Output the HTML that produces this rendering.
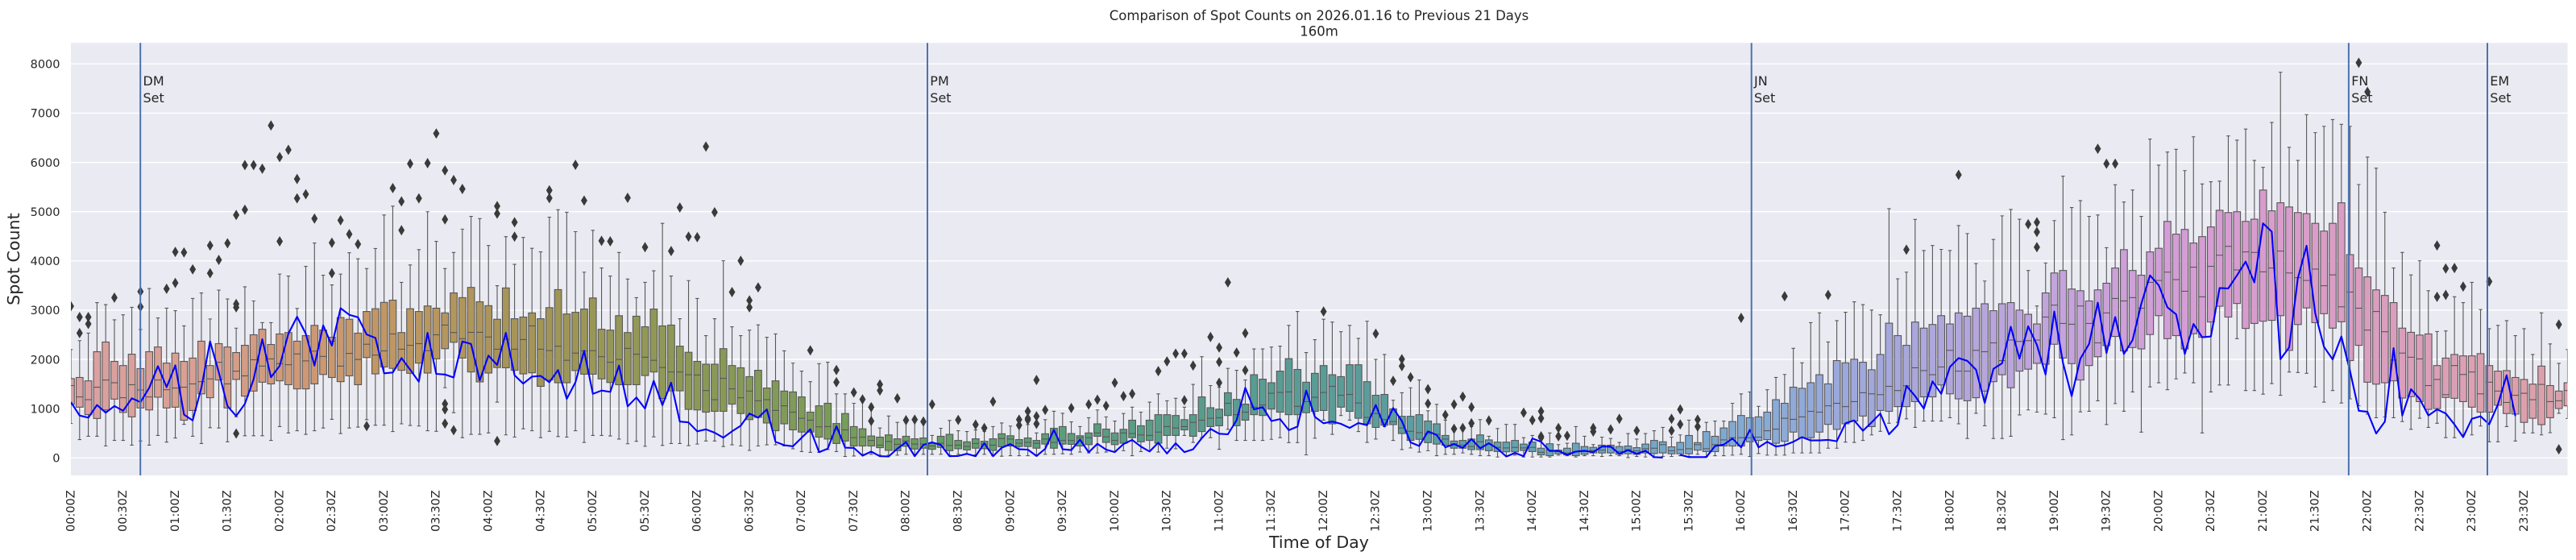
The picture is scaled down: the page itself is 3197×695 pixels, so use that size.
<!DOCTYPE html>
<html>
<head>
<meta charset="utf-8">
<style>
html,body{margin:0;padding:0;background:#fff;}
svg{display:block;}
text{font-family:"DejaVu Sans","Liberation Sans",sans-serif;fill:#262626;}
</style>
</head>
<body>
<svg xmlns="http://www.w3.org/2000/svg" width="3197" height="695" viewBox="0 0 3197 695">
<defs><clipPath id="ax"><rect x="88" y="53.3" width="3098.5" height="536.7"/></clipPath></defs>
<rect x="0" y="0" width="3197" height="695" fill="#ffffff"/>
<rect x="88" y="53.3" width="3098.5" height="536.7" fill="#EAEAF2"/>
<g stroke="#ffffff" stroke-width="1.4">
<line x1="88" x2="3186.5" y1="568.3" y2="568.3"/>
<line x1="88" x2="3186.5" y1="507.2" y2="507.2"/>
<line x1="88" x2="3186.5" y1="446.0" y2="446.0"/>
<line x1="88" x2="3186.5" y1="384.9" y2="384.9"/>
<line x1="88" x2="3186.5" y1="323.8" y2="323.8"/>
<line x1="88" x2="3186.5" y1="262.7" y2="262.7"/>
<line x1="88" x2="3186.5" y1="201.6" y2="201.6"/>
<line x1="88" x2="3186.5" y1="140.4" y2="140.4"/>
<line x1="88" x2="3186.5" y1="79.3" y2="79.3"/>
</g>
<g id="bx" clip-path="url(#ax)"></g>
<path id="ln" clip-path="url(#ax)" d="" fill="none" stroke="#0000FF" stroke-width="2.1" stroke-linejoin="round"/>
<g stroke="#4C72B0" stroke-width="2">
<line x1="174.2" x2="174.2" y1="53.3" y2="590"/>
<line x1="1151" x2="1151" y1="53.3" y2="590"/>
<line x1="2173.7" x2="2173.7" y1="53.3" y2="590"/>
<line x1="2914.9" x2="2914.9" y1="53.3" y2="590"/>
<line x1="3087" x2="3087" y1="53.3" y2="590"/>
</g>
<g font-size="16">
<text x="177.5" y="106">DM</text><text x="177.5" y="127">Set</text>
<text x="1154.3" y="106">PM</text><text x="1154.3" y="127">Set</text>
<text x="2177" y="106">JN</text><text x="2177" y="127">Set</text>
<text x="2918.2" y="106">FN</text><text x="2918.2" y="127">Set</text>
<text x="3090.3" y="106">EM</text><text x="3090.3" y="127">Set</text>
</g>
<g font-size="14.5" text-anchor="end">
<text x="74.5" y="573.6">0</text>
<text x="74.5" y="512.5">1000</text>
<text x="74.5" y="451.3">2000</text>
<text x="74.5" y="390.2">3000</text>
<text x="74.5" y="329.1">4000</text>
<text x="74.5" y="268.0">5000</text>
<text x="74.5" y="206.9">6000</text>
<text x="74.5" y="145.7">7000</text>
<text x="74.5" y="84.6">8000</text>
</g>
<g font-size="14.5" text-anchor="end">
<text transform="translate(92.3,608.3) rotate(-90)">00:00Z</text>
<text transform="translate(157.1,608.3) rotate(-90)">00:30Z</text>
<text transform="translate(221.9,608.3) rotate(-90)">01:00Z</text>
<text transform="translate(286.6,608.3) rotate(-90)">01:30Z</text>
<text transform="translate(351.4,608.3) rotate(-90)">02:00Z</text>
<text transform="translate(416.2,608.3) rotate(-90)">02:30Z</text>
<text transform="translate(481.0,608.3) rotate(-90)">03:00Z</text>
<text transform="translate(545.7,608.3) rotate(-90)">03:30Z</text>
<text transform="translate(610.5,608.3) rotate(-90)">04:00Z</text>
<text transform="translate(675.3,608.3) rotate(-90)">04:30Z</text>
<text transform="translate(740.1,608.3) rotate(-90)">05:00Z</text>
<text transform="translate(804.8,608.3) rotate(-90)">05:30Z</text>
<text transform="translate(869.6,608.3) rotate(-90)">06:00Z</text>
<text transform="translate(934.4,608.3) rotate(-90)">06:30Z</text>
<text transform="translate(999.2,608.3) rotate(-90)">07:00Z</text>
<text transform="translate(1063.9,608.3) rotate(-90)">07:30Z</text>
<text transform="translate(1128.7,608.3) rotate(-90)">08:00Z</text>
<text transform="translate(1193.5,608.3) rotate(-90)">08:30Z</text>
<text transform="translate(1258.3,608.3) rotate(-90)">09:00Z</text>
<text transform="translate(1323.1,608.3) rotate(-90)">09:30Z</text>
<text transform="translate(1387.8,608.3) rotate(-90)">10:00Z</text>
<text transform="translate(1452.6,608.3) rotate(-90)">10:30Z</text>
<text transform="translate(1517.4,608.3) rotate(-90)">11:00Z</text>
<text transform="translate(1582.2,608.3) rotate(-90)">11:30Z</text>
<text transform="translate(1646.9,608.3) rotate(-90)">12:00Z</text>
<text transform="translate(1711.7,608.3) rotate(-90)">12:30Z</text>
<text transform="translate(1776.5,608.3) rotate(-90)">13:00Z</text>
<text transform="translate(1841.3,608.3) rotate(-90)">13:30Z</text>
<text transform="translate(1906.1,608.3) rotate(-90)">14:00Z</text>
<text transform="translate(1970.8,608.3) rotate(-90)">14:30Z</text>
<text transform="translate(2035.6,608.3) rotate(-90)">15:00Z</text>
<text transform="translate(2100.4,608.3) rotate(-90)">15:30Z</text>
<text transform="translate(2165.2,608.3) rotate(-90)">16:00Z</text>
<text transform="translate(2229.9,608.3) rotate(-90)">16:30Z</text>
<text transform="translate(2294.7,608.3) rotate(-90)">17:00Z</text>
<text transform="translate(2359.5,608.3) rotate(-90)">17:30Z</text>
<text transform="translate(2424.3,608.3) rotate(-90)">18:00Z</text>
<text transform="translate(2489.0,608.3) rotate(-90)">18:30Z</text>
<text transform="translate(2553.8,608.3) rotate(-90)">19:00Z</text>
<text transform="translate(2618.6,608.3) rotate(-90)">19:30Z</text>
<text transform="translate(2683.4,608.3) rotate(-90)">20:00Z</text>
<text transform="translate(2748.2,608.3) rotate(-90)">20:30Z</text>
<text transform="translate(2812.9,608.3) rotate(-90)">21:00Z</text>
<text transform="translate(2877.7,608.3) rotate(-90)">21:30Z</text>
<text transform="translate(2942.5,608.3) rotate(-90)">22:00Z</text>
<text transform="translate(3007.3,608.3) rotate(-90)">22:30Z</text>
<text transform="translate(3072.0,608.3) rotate(-90)">23:00Z</text>
<text transform="translate(3136.8,608.3) rotate(-90)">23:30Z</text>
</g>
<text x="1637" y="680" font-size="20.6" text-anchor="middle">Time of Day</text>
<text transform="translate(24,321.6) rotate(-90)" font-size="20.6" text-anchor="middle">Spot Count</text>
<text x="1637" y="25" font-size="16.5" text-anchor="middle">Comparison of Spot Counts on 2026.01.16 to Previous 21 Days</text>
<text x="1637" y="44.5" font-size="16.5" text-anchor="middle">160m</text>
</svg>
<script>
(function(){
var L=88,R=3186.5,S=(R-L)/287,W=S*0.8;
function X(i){return L+S*i;}
function Y(v){return 568.3-v*0.061125;}
var B=[
700,1087,1469,1610,2200,372,1030,1239,1633,2381,439,878,1182,1565,2534,439,800,1436,2156,3153,242,974,1582,2353,3113,
355,1194,1526,1959,2804,355,923,1222,1875,2905,259,833,1486,2106,3057,343,1013,1379,1813,2607,259,974,1239,2156,3440,
456,1233,1582,2252,2843,321,1013,1385,1925,3040,405,1030,1419,2128,2990,681,766,1436,1959,2680,439,963,1503,2027,3237,
293,1300,1548,2370,3350,614,1222,1604,1875,2821,608,1582,1942,2320,3406,327,1013,1503,2252,3226,833,1593,1762,2139,2635,
450,1255,1666,2286,3474,450,1357,1993,2500,3187,450,1537,1864,2612,2747,355,1503,2010,2303,2747,636,1565,1914,2517,3733,
507,1486,1892,2545,3693,552,1402,2111,2370,3035,479,1402,1970,2483,3890,552,1503,2168,2691,4363,608,1694,2061,2595,3710,
783,1633,2370,2449,3513,495,1548,1864,2849,3733,608,1666,2122,2815,4166,625,1486,1999,2533,4042,777,2038,2308,2973,3845,
664,1706,2089,3029,4251,664,1847,2173,3158,4932,535,1818,2517,3203,5112,692,1779,2207,2545,3564,659,1717,2286,3029,3918,
647,1925,2320,2973,4228,552,1723,2179,3085,4999,540,2010,2500,3040,4397,1424,2218,2697,2944,3845,918,2348,2545,3350,4172,
411,2027,2421,3254,4645,479,1745,2550,3462,4904,479,1543,2550,3170,4859,507,1723,2455,3091,4313,1132,1835,2207,2815,3496,
467,1830,2410,3451,4493,422,1779,2207,2826,3930,591,1706,2404,2860,4476,552,1728,2680,2944,4256,411,1453,2207,2826,4183,
540,1582,2179,3051,4887,433,1526,2269,3417,5039,422,1526,1982,2922,4988,552,1773,2128,2956,4594,315,1700,2173,3023,3772,
456,1700,2179,3248,4622,456,1604,2055,2612,3856,445,1531,1942,2595,3693,383,1486,1999,2888,4172,287,1486,2224,2545,3631,
338,1486,2106,2877,3254,236,1672,2044,2663,3564,428,1745,1982,3023,3800,253,1205,1835,2680,4763,293,1362,1745,2697,3693,
293,1362,1745,2269,2826,250,985,1689,2145,3600,
281,974,1683,1959,3237,343,929,1368,1903,2483,343,946,1182,1903,2826,231,946,1616,2218,4003,265,1092,1402,1875,2663,
242,901,1222,1830,2483,152,777,1357,1650,2595,242,822,1160,1779,2702,265,709,1182,1419,2449,265,552,963,1565,2517,
242,692,1058,1357,2173,186,569,929,1340,1925,129,524,805,1239,1762,113,524,766,929,1548,113,422,631,1058,1914,
169,383,636,1109,1942,129,293,569,698,1301,28,343,569,901,1301,39,242,411,636,1109,73,242,422,591,1171,
73,242,355,445,1087,56,208,259,422,608,56,152,332,467,850,56,146,276,388,721,73,236,343,439,738,
62,180,281,388,766,73,197,281,405,771,73,175,242,298,456,73,214,298,439,602,56,146,253,479,760,
73,186,259,355,552,73,163,231,327,535,62,197,293,388,569,73,186,281,338,540,45,152,259,388,636,
34,225,394,490,709,45,242,383,450,647,45,231,298,372,614,45,231,315,405,676,45,197,298,355,507,
73,281,383,490,777,73,197,315,602,946,84,281,355,636,906,73,276,355,495,732,118,242,411,450,636,
101,270,411,507,816,101,439,507,692,974,118,315,428,585,833,129,270,355,507,749,146,298,507,580,901,
45,411,495,766,1030,129,327,467,653,929,146,355,456,766,1132,118,298,524,878,1301,197,456,636,878,1160,
186,456,608,861,1210,456,569,636,777,1030,315,439,721,878,1492,411,535,766,1239,2055,411,636,805,1019,1469,
175,653,816,991,1436,580,861,1109,1323,1818,355,653,878,1188,1779,355,766,929,1092,1582,355,878,1030,1689,2213,
355,861,1075,1599,2213,377,991,1312,1526,2252,411,929,1329,1762,2269,310,878,1340,2016,2691,310,878,1047,1796,2973,
62,918,1143,1537,2139,400,946,1230,1717,2400,
766,963,1329,1875,2815,479,692,1453,1689,2759,861,1030,1272,1650,2562,766,946,1289,1892,2691,535,805,1115,1892,2427,
315,692,822,1548,2776,383,619,901,1272,1999,636,664,777,1289,2100,355,676,738,997,1171,169,495,608,845,1323,
203,355,540,845,1424,118,377,512,878,1582,146,310,495,749,957,45,281,479,692,1087,73,259,383,456,766,
73,197,287,343,580,101,197,259,355,625,73,169,231,383,636,45,169,327,467,777,45,146,281,366,439,
17,129,214,321,597,45,124,203,321,681,56,124,214,355,681,17,152,203,281,411,17,129,214,321,456,
17,62,113,197,422,17,45,158,287,507,56,84,129,158,270,45,62,101,197,298,17,45,129,298,636,
45,73,129,231,439,45,101,152,214,270,28,101,158,259,422,45,101,214,259,394,45,73,129,231,315,
6,84,169,242,495,28,73,141,208,383,17,101,186,281,495,6,90,197,355,552,28,101,270,327,619,
28,84,146,225,422,45,84,169,315,467,28,84,186,456,766,73,158,270,310,766,28,129,186,535,721,
45,129,270,439,749,45,242,366,608,749,56,242,411,738,1109,73,242,411,861,1301,28,327,411,816,1340,
90,355,422,833,1047,56,372,552,929,1385,56,298,585,1182,1633,56,338,805,1109,1694,101,524,783,1436,2224,
101,411,833,1413,1931,101,411,946,1526,2747,101,524,929,1689,2944,197,681,1058,1503,2353,197,580,1109,1976,2787,
321,692,1042,1931,2956,315,749,1143,2004,3170,355,850,1323,1942,3113,467,636,1301,1790,3001,540,963,1284,2100,2905,
704,946,1453,2736,5061,721,1042,1368,2483,3637,794,1042,1464,2286,3772,619,1143,1830,2759,4842,749,1239,1773,2635,4211,
749,1239,1689,2708,4313,749,1481,1846,2888,4234,
816,1301,2184,2720,4211,692,1199,1762,2944,4718,394,1160,1762,2877,4555,906,1222,2184,3040,3947,653,1357,2156,3130,3592,
394,1548,2336,2990,4436,394,1689,1976,3130,4915,439,1424,2393,3153,5045,873,1762,2365,3001,4847,974,1802,2381,2916,3806,
929,1920,2393,2720,3085,890,1903,2860,3350,3958,816,2308,3102,3755,4819,372,2027,2730,3806,5720,467,1914,2714,3429,5084,
935,1582,3085,3394,5225,946,1875,2730,3187,4904,1160,2055,2336,3412,4932,676,2280,2944,3547,4268,1103,2466,3237,3856,5546,
946,2173,3187,4228,5196,1340,2241,3254,3806,5439,524,2213,3040,3710,4904,1441,2505,3564,4183,6475,1526,2888,3603,4256,5945,
1385,2421,3772,4802,6210,1604,2483,3620,4543,6266,1723,2213,3384,4639,5833,1526,2522,3873,4363,6520,507,2449,3271,4493,5562,
1340,2759,3890,4690,5607,1481,3080,4116,5028,5619,1481,2860,4296,4982,6537,2421,3136,3817,4999,6452,1368,2629,4183,4802,6677,
1368,2730,4172,4847,6041,1295,2776,3778,5439,5900,1509,2793,3856,5017,6812,1272,2888,4200,5180,7831,1745,2184,3755,5095,6306,
1734,2708,3659,4982,6041,1717,3046,3603,4960,6970,1441,2747,3834,4763,6604,1132,2928,3496,4605,6733,1368,2635,3716,4763,6869,
1115,2764,3068,5180,6773,1199,1976,3367,4127,6733,1058,2286,3040,3856,5551,890,1537,2595,3676,6108,816,1498,2973,3412,5883,
833,1526,2562,3299,4988,816,1565,1987,3153,3856,738,1216,2128,2635,4172,580,1244,2044,2550,3716,805,1143,2010,2494,4003,
619,985,1469,2517,3395,704,1002,1593,1875,2567,411,1227,1284,2027,2578,411,1210,1875,2100,3271,467,1143,1694,2072,3153,
467,1030,1745,2072,3564,647,929,1301,2117,3012,327,929,1537,1875,2624,327,1070,1357,1762,2691,636,901,1126,1773,2787,
343,890,1272,1633,2483,507,721,1312,1593,2624,507,805,1182,1498,2100,467,676,1492,1864,2944,512,816,1143,1469,2314,
906,1002,1160,1357,1920,800,1058,1368,1526,2200];
var O=[0,3080,1,2860,1,2534,2,2860,2,2720,5,3254,8,3378,8,3068,11,3434,12,4183,12,3553,13,4172,14,3828,16,4313,16,3750,17,4020,18,4358,
19,4932,19,3125,19,3057,19,495,20,5945,20,5039,21,5945,22,5872,23,6750,24,6108,24,4397,25,6255,26,5664,26,5270,27,5354,28,4859,
30,4369,30,3750,31,4825,32,4543,33,4340,34,647,37,5478,38,5208,38,4622,39,5973,40,5270,41,5985,42,6587,43,5838,43,4842,43,1098,43,985,43,698,
44,5641,44,563,45,5461,49,5112,49,4960,49,343,51,4785,51,4493,55,5433,55,5275,58,5951,59,5225,61,4408,62,4397,64,5281,66,4279,69,4200,
70,5084,71,4493,72,4481,73,6322,74,4988,76,3367,77,4003,78,3198,78,3057,79,3462,85,2184,88,1785,88,1537,90,1329,91,1188,92,1030,92,749,
93,1492,93,1368,95,1210,96,766,97,777,98,738,99,1087,102,771,104,676,105,608,106,1143,109,777,109,664,110,946,110,805,110,771,
111,1582,111,845,111,692,112,974,115,1013,117,1087,118,1182,119,1058,120,1526,121,1255,122,1301,125,1762,126,1959,127,2117,128,2117,128,1171,
129,1875,131,2455,132,2241,132,1948,132,1526,133,3564,134,2139,135,2533,135,1779,144,2973,150,2522,152,1565,153,2004,153,1864,154,1638,
156,1396,156,1103,158,873,159,1087,159,591,160,1244,160,608,161,1030,161,704,163,760,167,918,168,766,169,946,169,805,169,439,169,411,
171,608,171,439,172,450,175,608,175,535,177,580,178,794,180,552,184,794,184,552,185,985,185,681,187,777,187,636,192,2843,197,3282,202,3310,
211,4228,217,5748,225,4746,226,4785,226,4588,226,4279,233,6277,234,5973,235,5973,263,8023,264,7432,272,4313,272,3271,273,3845,273,3310,
274,3856,275,3479,278,3581,286,2708,286,175];
var N=null;
var LN=[1132,861,816,1075,918,1053,957,1210,1132,1424,1864,1436,1880,878,760,1424,2365,1740,1053,850,
1098,1593,2410,1638,1869,2522,2866,2522,1875,2691,2280,3040,2905,2854,2505,2438,1717,1734,2027,1790,
1548,2539,1706,1694,1633,2365,2314,1576,2077,1886,2539,1678,1509,1650,1666,1537,1785,1199,1537,2173,
1301,1368,1340,1875,1047,1227,1002,1565,1070,1526,738,721,
540,580,512,411,540,653,901,816,985,327,259,236,411,580,118,186,647,208,203,45,129,34,28,186,321,34,265,315,265,34,
39,84,34,298,34,208,281,175,169,39,186,569,175,158,372,113,287,169,118,281,366,231,129,310,90,298,118,175,400,591,
490,479,766,1424,985,1030,749,788,563,636,1368,833,
704,738,692,608,709,664,1075,636,1013,749,315,242,540,467,214,281,203,383,197,298,186,28,101,34,394,327,141,146,62,129,
146,118,231,231,84,158,84,146,17,6,N,62,17,17,17,242,270,394,214,569,214,327,231,259,327,422,355,355,366,338,
704,760,552,721,901,479,664,1464,1255,1002,1554,1301,
1847,2027,1970,1790,1115,1807,1920,2663,2016,2674,2297,1694,2973,1931,1255,2016,2314,3153,2128,2860,
2111,2393,3130,3705,3508,3057,2916,2111,2719,2449,2466,3451,3440,3705,3986,3564,4763,4594,2004,2241,
3648,4307,2933,2258,1999,2466,1762,957,935,495,738,2229,861,1396,1199,861,985,901,681,422,794,845,681,1087,1678,850,
N,N,N,N,N,N];
var A=[[0,219,160,163],[14,217,160,146],[26,207,152,118],[38,190,151,98],[50,168,149,88],[62,150,151,86],[74,137,153,86],
[86,124,156,88],[98,104,158,100],[110,92,158,118],[122,89,157,132],[134,89,156,144],[146,90,156,152],[158,93,158,163],
[170,102,164,182],[182,113,168,200],[194,134,170,214],[206,160,168,220],[218,180,166,220],[230,198,163,220],
[242,212,157,214],[254,217,156,204],[266,218,158,190],[278,220,160,176],[287,220,160,168]];
function col(i){for(var k=0;k<A.length-1;k++){if(i<=A[k+1][0]){var a=A[k],b=A[k+1],t=(i-a[0])/(b[0]-a[0]);
return 'rgb('+Math.round(a[1]+(b[1]-a[1])*t)+','+Math.round(a[2]+(b[2]-a[2])*t)+','+Math.round(a[3]+(b[3]-a[3])*t)+')';}}
return 'rgb(220,160,168)';}
var g='#575757',s='';
var n=Math.min(288,Math.floor(B.length/5));
for(var i=0;i<n;i++){
var lo=B[i*5],q1=B[i*5+1],md=B[i*5+2],q3=B[i*5+3],hi=B[i*5+4];
var x=X(i),x0=x-W/2;
var yl=Y(lo),y1=Y(q1),ym=Y(md),y3=Y(q3),yh=Y(hi);
s+='<path d="M'+x.toFixed(2)+' '+yh.toFixed(2)+'V'+y3.toFixed(2)+'M'+x.toFixed(2)+' '+y1.toFixed(2)+'V'+yl.toFixed(2)+
'M'+(x-2.2).toFixed(2)+' '+yh.toFixed(2)+'H'+(x+2.2).toFixed(2)+'M'+(x-2.2).toFixed(2)+' '+yl.toFixed(2)+'H'+(x+2.2).toFixed(2)+
'" stroke="'+g+'" stroke-width="1.1" fill="none"/>';
s+='<rect x="'+x0.toFixed(2)+'" y="'+y3.toFixed(2)+'" width="'+W.toFixed(2)+'" height="'+(y1-y3).toFixed(2)+'" fill="'+col(i)+'" stroke="'+g+'" stroke-width="1.1"/>';
s+='<path d="M'+x0.toFixed(2)+' '+ym.toFixed(2)+'H'+(x0+W).toFixed(2)+'" stroke="'+g+'" stroke-width="1.1"/>';
}
for(var k=0;k<O.length;k+=2){var xx=X(O[k]),yy=Y(O[k+1]);
s+='<path d="M'+xx.toFixed(2)+' '+(yy-5.9).toFixed(2)+'L'+(xx+3.6).toFixed(2)+' '+yy.toFixed(2)+'L'+xx.toFixed(2)+' '+(yy+5.9).toFixed(2)+'L'+(xx-3.6).toFixed(2)+' '+yy.toFixed(2)+'Z" fill="#3a3a3a" stroke="#3a3a3a" stroke-width="0.6"/>';}
document.getElementById('bx').innerHTML=s;
var d='',pen=false;
for(var j=0;j<LN.length;j++){if(LN[j]===null){pen=false;continue;}d+=(pen?'L':'M')+X(j).toFixed(1)+' '+Y(LN[j]).toFixed(1);pen=true;}
document.getElementById('ln').setAttribute('d',d);
})();
</script>
</body>
</html>
